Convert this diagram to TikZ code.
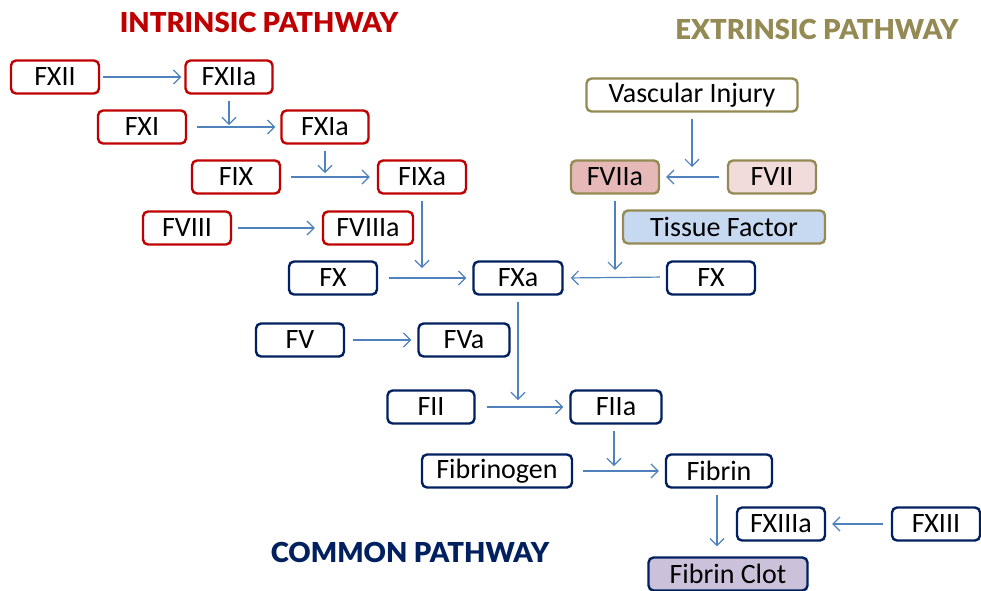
\documentclass[tikz,border=0pt]{standalone}
\usepackage{fontspec}
\setmainfont{Carlito}
\newfontfamily\titlefont{Lato Black}
\usetikzlibrary{arrows.meta}
\definecolor{cred}{HTML}{C00000}
\definecolor{cnavy}{HTML}{002060}
\definecolor{colive}{HTML}{948A54}
\definecolor{carrow}{HTML}{4F81BD}
\definecolor{fviia}{HTML}{E6B9B8}
\definecolor{fvii}{HTML}{F2DCDB}
\definecolor{tissue}{HTML}{C6D9F1}
\definecolor{clot}{HTML}{CCC1DA}
\tikzset{
  box/.style={draw, rounded corners=5pt, line width=2.4pt, minimum height=33pt,
    inner sep=0pt, font=\fontsize{28}{28}\selectfont, fill=white},
  redbox/.style={box, draw=cred},
  navybox/.style={box, draw=cnavy},
  olivebox/.style={box, draw=colive},
  arr/.style={draw=carrow, line width=1.2pt, -{Straight Barb[length=7pt,width=14pt,line width=1.2pt]}},
  ttl/.style={font=\titlefont\fontsize{27.5}{27.5}\selectfont, inner sep=0pt}
}
\begin{document}
\begin{tikzpicture}[x=1pt,y=-1pt]
\useasboundingbox (0,0) rectangle (981,590);
% titles
\node[ttl, text=cred] (tI) at (259,22) {INTRINSIC PATHWAY};
\node[ttl, text=colive] (tE) at (817,29) {EXTRINSIC PATHWAY};
\node[ttl, text=cnavy] (tC) at (410,552) {COMMON PATHWAY};
% intrinsic
\node[redbox, minimum width=88pt] (FXII) at (55,77) {FXII};
\node[redbox, minimum width=87pt] (FXIIa) at (229,77) {FXIIa};
\node[redbox, minimum width=88pt] (FXI) at (142,127) {FXI};
\node[redbox, minimum width=87pt] (FXIa) at (325,127) {FXIa};
\node[redbox, minimum width=88pt] (FIX) at (236,177) {FIX};
\node[redbox, minimum width=88pt] (FIXa) at (422,177) {FIXa};
\node[redbox, minimum width=88pt] (FVIII) at (187,228) {FVIII};
\node[redbox, minimum width=90pt] (FVIIIa) at (368,228) {FVIIIa};
% extrinsic
\node[olivebox, minimum width=211pt] (VI) at (692,95) {Vascular Injury};
\node[olivebox, minimum width=88pt, fill=fviia] (FVIIa) at (615,177) {FVIIa};
\node[olivebox, minimum width=88pt, fill=fvii] (FVII) at (772,177) {FVII};
\node[olivebox, minimum width=202pt, fill=tissue] (TF) at (724,227) {Tissue Factor};
% common
\node[navybox, minimum width=88pt] (FXl) at (333,278) {FX};
\node[navybox, minimum width=89pt] (FXa) at (518,278) {FXa};
\node[navybox, minimum width=88pt] (FXr) at (711,278) {FX};
\node[navybox, minimum width=88pt] (FV) at (300,340) {FV};
\node[navybox, minimum width=91pt] (FVa) at (464,340) {FVa};
\node[navybox, minimum width=87pt] (FII) at (431,407) {FII};
\node[navybox, minimum width=91pt] (FIIa) at (616,407) {FIIa};
\node[navybox, minimum width=150pt] (Fbg) at (497,471) {Fibrinogen};
\node[navybox, minimum width=106pt] (Fbn) at (719,471) {Fibrin};
\node[navybox, minimum width=88pt] (FXIIIa) at (781,524) {FXIIIa};
\node[navybox, minimum width=88pt] (FXIII) at (936,524) {FXIII};
\node[navybox, minimum width=159pt, fill=clot] (Clot) at (728,574) {Fibrin Clot};
% helper coordinates
\coordinate (m1) at (FXIIa.center |- FXI.center);
\coordinate (m2) at (FXIa.center |- FIX.center);
\coordinate (m3) at (FIXa.center |- FXl.center);
\coordinate (m4) at (VI.center |- FVII.center);
\coordinate (m5) at (FVIIa.center |- FXr.center);
\coordinate (m6) at (FXa.center |- FII.center);
\coordinate (m7) at ([xshift=-2pt]FIIa.center |- Fbg.center);
\coordinate (s8) at (717,0 |- Fbn.south);
\coordinate (m8) at (717,0 |- Clot.north);
% intrinsic arrows
\draw[arr, shorten <=3pt, shorten >=3pt] (FXII) -- (FXIIa);
\draw[arr, shorten <=6pt, shorten >=2pt] (FXIIa.south) -- (m1);
\draw[arr, shorten <=10pt, shorten >=5pt] (FXI) -- (FXIa);
\draw[arr, shorten <=6pt, shorten >=4pt] (FXIa.south) -- (m2);
\draw[arr, shorten <=10pt, shorten >=7pt] (FIX) -- (FIXa);
\draw[arr, shorten <=6pt, shorten >=7pt] (FVIII) -- (FVIIIa);
\draw[arr, shorten <=6pt, shorten >=10pt] (FIXa.south) -- (m3);
% extrinsic arrows
\draw[arr, shorten <=6pt, shorten >=10pt] (VI.south) -- (m4);
\draw[arr, shorten <=8pt, shorten >=6pt] (FVII) -- (FVIIa);
\draw[arr, shorten <=6pt, shorten >=8pt] (FVIIa.south) -- (m5);
% common arrows
\draw[arr, shorten <=11pt, shorten >=6pt] (FXl) -- (FXa);
\draw[arr, shorten <=6pt, shorten >=7pt] ([yshift=1pt]FXr.west) -- (FXa.east);
\draw[arr, shorten <=8pt, shorten >=6pt] (FV) -- (FVa);
\draw[arr, shorten <=6pt, shorten >=7pt] (FXa.south) -- (m6);
\draw[arr, shorten <=11pt, shorten >=6pt] (FII) -- (FIIa);
\draw[arr, shorten <=6pt, shorten >=5pt] ([xshift=-2pt]FIIa.south) -- (m7);
\draw[arr, shorten <=10pt, shorten >=6pt] (Fbg) -- (Fbn);
\draw[arr, shorten <=6pt, shorten >=10pt] (s8) -- (m8);
\draw[arr, shorten <=8pt, shorten >=6pt] (FXIII) -- (FXIIIa);
\end{tikzpicture}
\end{document}
